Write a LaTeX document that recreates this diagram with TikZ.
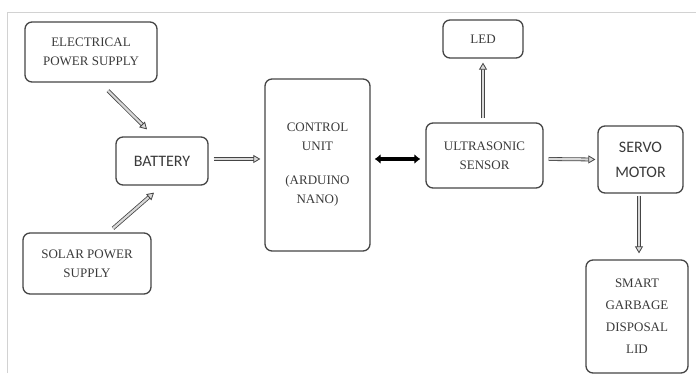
\documentclass[tikz,border=0pt]{standalone}
\usepackage{fontspec}
\setmainfont{Liberation Serif}
\newfontfamily\sanslabel{Carlito}
\usetikzlibrary{arrows.meta}
\usetikzlibrary{positioning}

\definecolor{boxline}{HTML}{454545}
\definecolor{boxtext}{HTML}{3A3A3A}

\begin{document}
\begin{tikzpicture}
	[
	x=1pt, y=-1pt,
	block/.style = {draw=boxline, line width=1.3pt, rounded corners=7pt, text=boxtext, align=center, inner sep=0pt,
		font=\fontsize{13}{19}\selectfont},
	sblock/.style = {block, font=\sanslabel\fontsize{16}{25}\selectfont},
	flow/.style = {draw=boxline, line width=0.8pt, double=gray!30, double distance=2.2pt,
		-{Triangle[open, length=7pt, width=8pt, fill=gray!30, line width=0.8pt]}},
	link/.style = {draw=black, line width=3.4pt, {Latex[length=6pt,width=10pt]}-{Latex[length=6pt,width=10pt]}}
	]
	\useasboundingbox (0,0) rectangle (696,373);
	% frame of the page
	\draw[gray!35, line width=0.8pt] (7,373) -- (7,12) -- (696,12);

	% boxes
	\node[block, minimum width=132pt, minimum height=60pt] (elec) at (91,52) {ELECTRICAL\\POWER SUPPLY};
	\node[sblock, minimum width=92pt, minimum height=48pt] (battery) at (162,161) {BATTERY};
	\node[block, minimum width=128pt, minimum height=61pt] (solar) at (87,263.5) {SOLAR POWER\\SUPPLY};
	\node[block, minimum width=105pt, minimum height=172pt] (control) at (317.5,165) {CONTROL\\UNIT\\[15pt](ARDUINO\\NANO)};
	\node[block, minimum width=117pt, minimum height=65pt] (sensor) at (484.5,155.5) {ULTRASONIC\\SENSOR};
	\node[block, minimum width=80pt, minimum height=38pt] (led) at (483,39) {LED};
	\node[sblock, minimum width=85pt, minimum height=67pt] (servo) at (640.5,159.5) {SERVO\\MOTOR};
	\node[block, minimum width=102pt, minimum height=113pt, font=\fontsize{13}{22}\selectfont] (lid) at (637,316.5) {SMART\\GARBAGE\\DISPOSAL\\LID};

	% connections
	\draw[flow] ([shift={(17,8)}]elec.south) -- ([shift={(-15,-7)}]battery.north);
	\draw[flow] ([shift={(26,-4)}]solar.north) -- ([shift={(-8,7)}]battery.south);
	\draw[flow] ([shift={(5,-2)}]battery.east) -- ([shift={(-4,-6)}]control.west);
	\draw[link] ([shift={(4,-6)}]control.east) -- ([shift={(-5,3.5)}]sensor.west);
	\draw[flow] ([shift={(-1.5,-4)}]sensor.north) -- ([shift={(0,4)}]led.south);
	\draw[flow] ([shift={(5,3.5)}]sensor.east) -- ([shift={(-2,0)}]servo.west);
	\draw[flow] ([shift={(-1.5,2)}]servo.south) -- ([shift={(2,-6)}]lid.north);
\end{tikzpicture}
\end{document}
